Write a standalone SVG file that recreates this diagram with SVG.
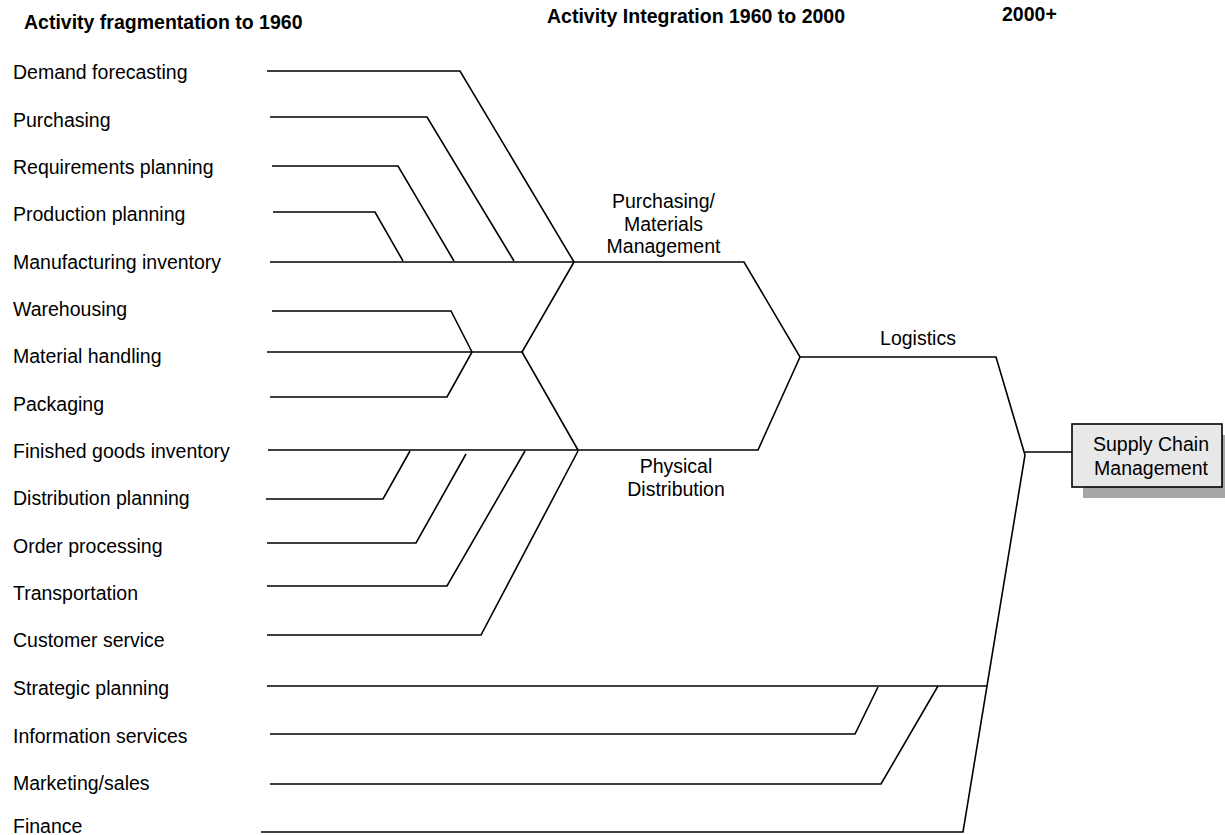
<svg xmlns="http://www.w3.org/2000/svg" width="1225" height="835" viewBox="0 0 1225 835">
<style>
text{font-family:"Liberation Sans",Arial,sans-serif;fill:#000}
.t{font-size:19.5px;font-weight:bold}
.l{font-size:19.5px}
.c{font-size:19.5px;text-anchor:middle}
.ln{fill:none;stroke:#000;stroke-width:1.6;stroke-linejoin:miter}
</style>
<rect width="1225" height="835" fill="#fff"/>
<g id="titles">
<text class="t" x="24" y="29">Activity fragmentation to 1960</text>
<text class="t" x="547" y="23">Activity Integration 1960 to 2000</text>
<text class="t" x="1002" y="21">2000+</text>
</g>
<g id="activities">
<text id="n-demand" class="l" x="13" y="79">Demand forecasting</text>
<text id="n-purchasing" class="l" x="13" y="127">Purchasing</text>
<text id="n-req" class="l" x="13" y="174">Requirements planning</text>
<text id="n-prod" class="l" x="13" y="221">Production planning</text>
<text id="n-mfg" class="l" x="13" y="269">Manufacturing inventory</text>
<text id="n-wh" class="l" x="13" y="316">Warehousing</text>
<text id="n-mh" class="l" x="13" y="363">Material handling</text>
<text id="n-pack" class="l" x="13" y="411">Packaging</text>
<text id="n-fgi" class="l" x="13" y="458">Finished goods inventory</text>
<text id="n-dist" class="l" x="13" y="505">Distribution planning</text>
<text id="n-order" class="l" x="13" y="553">Order processing</text>
<text id="n-trans" class="l" x="13" y="600">Transportation</text>
<text id="n-cust" class="l" x="13" y="647">Customer service</text>
<text id="n-strat" class="l" x="13" y="695">Strategic planning</text>
<text id="n-info" class="l" x="13" y="743">Information services</text>
<text id="n-mkt" class="l" x="13" y="790">Marketing/sales</text>
<text id="n-fin" class="l" x="13" y="833">Finance</text>
</g>
<g id="n-pmm">
<text class="c" x="663.5" y="208">Purchasing/</text>
<text class="c" x="663.5" y="230.5">Materials</text>
<text class="c" x="663.5" y="252.5">Management</text>
</g>
<g id="n-pd">
<text class="c" x="676" y="473">Physical</text>
<text class="c" x="676" y="495.5">Distribution</text>
</g>
<g id="n-log">
<text class="c" x="918" y="345">Logistics</text>
</g>
<g id="n-scm">
<rect x="1083" y="435" width="150" height="63" fill="#a6a6a6"/>
<rect x="1072" y="424" width="150" height="63" fill="#e8e8e8" stroke="#000" stroke-width="1.6"/>
<text class="c" x="1151" y="451">Supply Chain</text>
<text class="c" x="1151" y="475">Management</text>
</g>
<g id="connectors" class="ln">
<polyline class="ln" points="267,71 460,71 574,262"/>
<polyline class="ln" points="270,117 427,117 514,261"/>
<polyline class="ln" points="272,166 398,166 454,261"/>
<polyline class="ln" points="273,212 375,212 403,261"/>
<polyline class="ln" points="270,262 744,262 800,357 996,357 1025,455 963,832 261,832"/>
<polyline class="ln" points="272,311 451,311 472,352"/>
<polyline class="ln" points="267,352 522,352"/>
<polyline class="ln" points="270,397 447,397 472,352"/>
<polyline class="ln" points="574,262 522,352 578,450"/>
<polyline class="ln" points="268,450 758,450 800,357"/>
<polyline class="ln" points="266,499 383,499 410,451"/>
<polyline class="ln" points="267,543 416,543 466,454"/>
<polyline class="ln" points="267,586 447,586 525,451"/>
<polyline class="ln" points="267,635 481,635 578,451"/>
<polyline class="ln" points="1025,452 1072,452"/>
<polyline class="ln" points="267,686 987,686"/>
<polyline class="ln" points="270,734 855,734 878,687"/>
<polyline class="ln" points="270,784 881,784 938,686"/>
</g>
</svg>
